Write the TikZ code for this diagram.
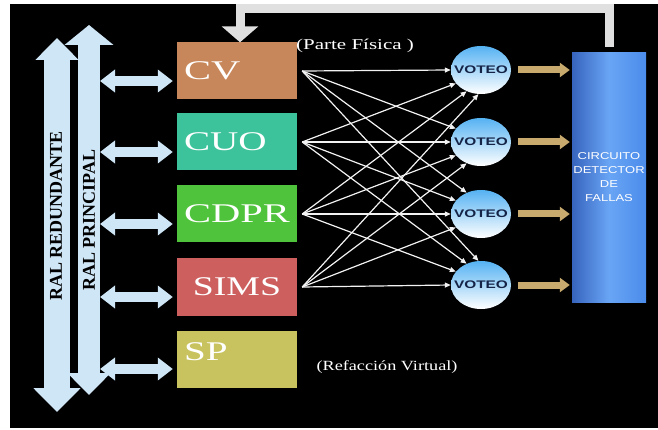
\documentclass[tikz,border=0pt]{standalone}
\usepackage{fontspec}
\setmainfont{Liberation Serif}
\setsansfont{Liberation Sans}
\usetikzlibrary{arrows.meta,shapes.geometric}
\newcommand{\xstretch}[2]{\scalebox{#1}[1]{#2}}
\definecolor{cvcol}{RGB}{200,135,90}
\definecolor{cuocol}{RGB}{60,195,155}
\definecolor{cdprcol}{RGB}{80,195,60}
\definecolor{simscol}{RGB}{205,95,95}
\definecolor{spcol}{RGB}{200,195,95}
\definecolor{buscol}{RGB}{207,230,247}
\definecolor{votecol}{RGB}{85,178,242}
\definecolor{votetext}{RGB}{20,35,70}
\definecolor{outcol}{RGB}{200,170,110}
\definecolor{detleft}{RGB}{55,100,190}
\definecolor{detmid}{RGB}{105,165,245}
\definecolor{detright}{RGB}{75,140,235}
\definecolor{backcol}{RGB}{224,224,224}
\tikzset{
  unit/.style={minimum width=120pt,minimum height=57pt,inner xsep=7pt,text width=106pt,
    align=left,text=white,font=\fontsize{27}{27}\selectfont},
  voteo/.style={ellipse,minimum width=60pt,minimum height=48pt,inner xsep=-6pt,inner ysep=0pt,
    top color=votecol,bottom color=white,text=votetext,font=\sffamily\bfseries\fontsize{11}{11}\selectfont},
  bigbus/.style={buscol,line width=#1,line cap=butt},
  link/.style={buscol,line width=10pt,{Triangle[length=15pt,width=22pt]}-{Triangle[length=15pt,width=22pt]}},
  wire/.style={white!90!gray,line width=1.2pt,-{Triangle[length=6pt,width=5pt]}},
  outarrow/.style={outcol,line width=7pt,-{Triangle[length=10pt,width=14pt]}},
  feedback/.style={backcol,line width=9pt,-{Triangle[length=16pt,width=36pt]}},
  note/.style={text=white}
}
\begin{document}
\begin{tikzpicture}[x=1pt,y=-1pt]
%picture
\useasboundingbox (0,0) rectangle (658,430);
\fill[white] (0,0) rectangle (658,430);
\fill[black] (10,4) rectangle (658,428);
% buses
\coordinate (rtop) at (57,38);
\coordinate (rbot) at (57,412);
\coordinate (ptop) at (89,25);
\coordinate (pbot) at (89,395);
\coordinate (pedge) at (100,0);
\draw[bigbus=22pt,{Triangle[length=20pt,width=48pt]}-{Triangle[length=22pt,width=42pt]}] (ptop) -- (pbot);
\draw[bigbus=26pt,{Triangle[length=22pt,width=42pt]}-{Triangle[length=24pt,width=46pt]}] (rtop) -- (rbot);
\node[rotate=90,font=\bfseries\fontsize{18}{18}\selectfont] (redlab) at (56,216) {RAL REDUNDANTE};
\node[rotate=90,font=\bfseries\fontsize{18}{18}\selectfont] (prilab) at (89,220) {RAL PRINCIPAL};
% units
\node[unit,fill=cvcol] (cv) at (237,71) {\xstretch{1.5}{CV}};
\node[unit,fill=cuocol] (cuo) at (237,142) {\xstretch{1.45}{CUO}};
\node[unit,fill=cdprcol] (cdpr) at (237,214) {\xstretch{1.5}{CDPR}};
\node[unit,fill=simscol,align=center] (sims) at (237,287) {\xstretch{1.4}{SIMS}};
\node[unit,fill=spcol] (sp) at (237,359) {\raisebox{7pt}[\height][\depth]{\xstretch{1.45}{SP}}};
\foreach \s in {cv,cuo,cdpr,sims,sp}{
  \coordinate (l) at ([yshift=-10pt]\s.west);
  \draw[link] (pedge |- l) -- ([xshift=-4pt]l);
}
% voting
\foreach \j/\y in {1/70,2/142,3/214,4/285}
  \node[voteo] (v\j) at (481,\y) {\xstretch{1.4}{VOTEO}};
\foreach \s [count=\i] in {cv,cuo,cdpr,sims}
  \foreach \j in {1,...,4}{
    \pgfmathtruncatemacro{\ang}{180+28*(\i-\j)}
    \draw[wire] ([xshift=5pt]\s.east) -- (v\j.\ang);
  }
% detector
\node[left color=detleft,right color=detright,middle color=detmid,minimum width=74pt,
  minimum height=249pt,inner sep=1pt,text=white,align=center,
  font=\sffamily\fontsize{10}{14}\selectfont] (det) at (609,177.5)
  {\xstretch{1.3}{CIRCUITO}\\\xstretch{1.3}{DETECTOR}\\\xstretch{1.3}{DE}\\\xstretch{1.3}{FALLAS}};
\coordinate (detin) at ([xshift=-2pt]det.west);
\foreach \j in {1,...,4}
  \draw[outarrow] ([xshift=7pt]v\j.east) -- (detin |- v\j);
\draw[feedback] ([yshift=6pt]det.north) |- ([xshift=3pt,yshift=34pt]cv.north) -- ([xshift=3pt]cv.north);
% notes
\node[note,font=\fontsize{15}{15}\selectfont] (fisica) at (355,46) {\xstretch{1.4}{(Parte Física )}};
\node[note,font=\fontsize{14}{14}\selectfont] (virtual) at (387,367) {\xstretch{1.3}{(Refacción Virtual)}};
\end{tikzpicture}
\end{document}
